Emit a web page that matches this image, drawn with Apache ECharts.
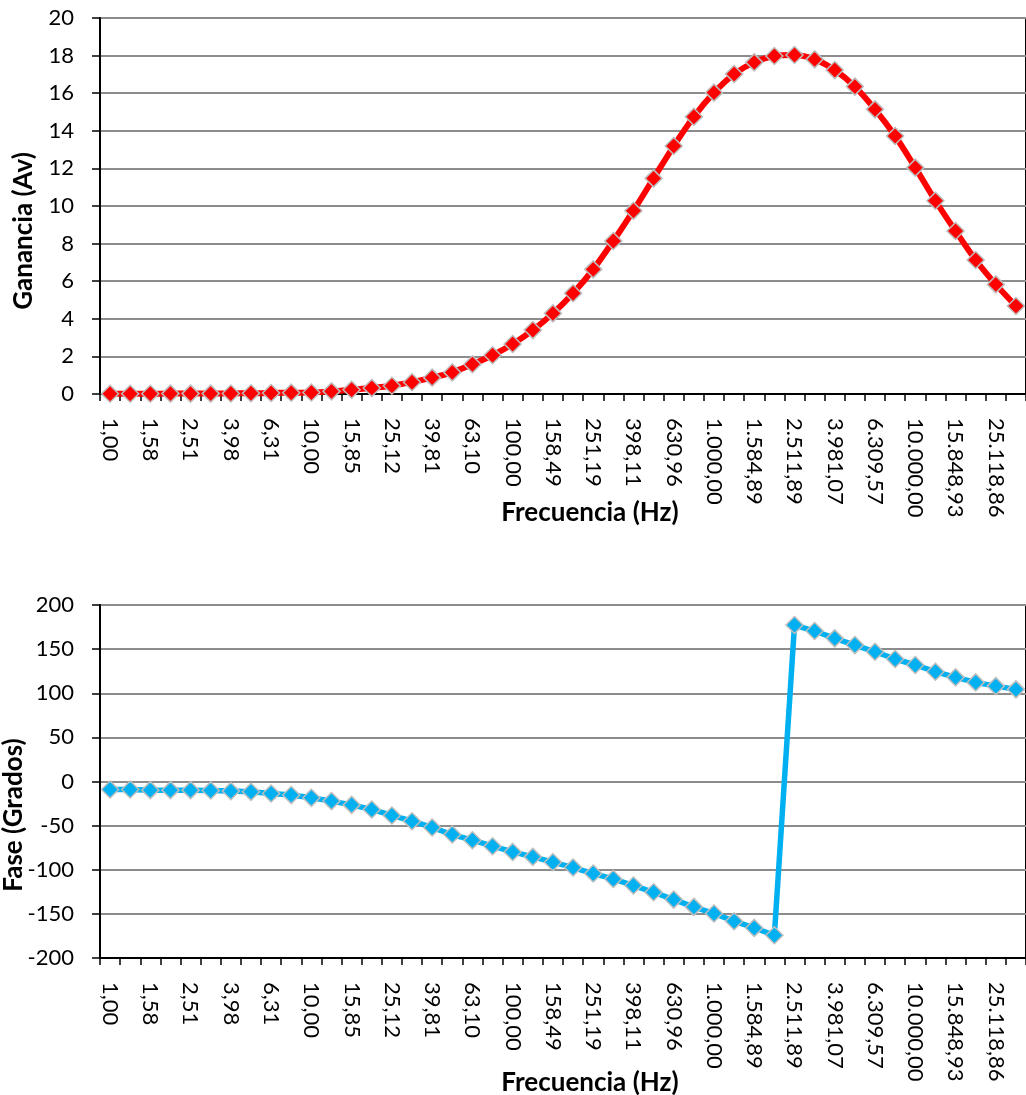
<!DOCTYPE html>
<html>
<head>
<meta charset="utf-8">
<script src="https://cdn.jsdelivr.net/npm/echarts@6/dist/echarts.min.js"></script>
<style>
  html, body { margin: 0; padding: 0; background: #fff; }
  #chart { width: 1026px; height: 1095px; }
</style>
</head>
<body>
<div id="chart"></div>
<script>
// Frequency points (Hz), ten per decade, Spanish number format
const frecuencias = [
  '1,00', '1,26', '1,58', '2,00', '2,51', '3,16', '3,98', '5,01', '6,31', '7,94',
  '10,00', '12,59', '15,85', '19,95', '25,12', '31,62', '39,81', '50,12', '63,10', '79,43',
  '100,00', '125,89', '158,49', '199,53', '251,19', '316,23', '398,11', '501,19', '630,96', '794,33',
  '1.000,00', '1.258,93', '1.584,89', '1.995,26', '2.511,89', '3.162,28', '3.981,07', '5.011,87', '6.309,57', '7.943,28',
  '10.000,00', '12.589,25', '15.848,93', '19.952,62', '25.118,86', '31.622,78'
];

// Voltage gain Av at each frequency
const ganancia = [
  0.01, 0.01, 0.01, 0.02, 0.02, 0.02, 0.03, 0.04, 0.05, 0.07,
  0.08, 0.14, 0.23, 0.32, 0.44, 0.63, 0.87, 1.15, 1.58, 2.06,
  2.66, 3.40, 4.29, 5.36, 6.63, 8.14, 9.75, 11.47, 13.19, 14.75,
  16.03, 17.02, 17.64, 17.98, 18.03, 17.80, 17.23, 16.35, 15.14, 13.72,
  12.04, 10.28, 8.67, 7.13, 5.83, 4.68
];

// Phase in degrees at each frequency
const fase = [
  -9.0, -9.0, -9.8, -9.8, -9.8, -10.1, -10.9, -11.7, -13.6, -15.4,
  -18.5, -22.2, -26.5, -31.7, -38.5, -45.0, -52.1, -60.1, -66.5, -73.3,
  -79.8, -85.4, -91.4, -97.5, -104.3, -110.4, -117.9, -125.5, -133.8, -142.1,
  -149.6, -158.3, -165.9, -174.2, 177.3, 170.5, 162.2, 154.6, 147.0, 138.8,
  132.0, 124.4, 118.0, 112.3, 108.1, 104.4
];

const FONT = 'Lato, "Open Sans", "Noto Sans", sans-serif';
const chart = echarts.init(document.getElementById('chart'), null, { renderer: 'canvas' });

function xAxisFor(gridIndex) {
  return {
    type: 'category',
    gridIndex: gridIndex,
    data: frecuencias,
    boundaryGap: true,
    axisLine: { onZero: false, lineStyle: { color: '#000', width: 2 } },
    axisTick: { show: true, interval: 0, length: 7, lineStyle: { color: '#000', width: 1.5 } },
    axisLabel: {
      interval: 1, rotate: -90, margin: 24,
      fontFamily: FONT, fontSize: 22, color: '#000'
    },
    splitLine: { show: false }
  };
}

function yAxisFor(gridIndex, min, max, interval) {
  return {
    type: 'value',
    gridIndex: gridIndex,
    min: min, max: max, interval: interval,
    axisLine: { show: true, lineStyle: { color: '#000', width: 2 } },
    axisTick: { show: true, length: 8, lineStyle: { color: '#000', width: 1.5 } },
    axisLabel: { margin: 26, fontFamily: FONT, fontSize: 22, color: '#000' },
    splitLine: { show: true, lineStyle: { color: '#8c8c8c', width: 2 } }
  };
}

function titleText(text, x, y, rotated) {
  return {
    type: 'text',
    x: x, y: y,
    rotation: rotated ? Math.PI / 2 : 0,
    style: {
      text: text,
      font: 'bold 26px ' + FONT,
      fill: '#000',
      align: 'center',
      verticalAlign: 'middle'
    }
  };
}

chart.setOption({
  animation: false,
  backgroundColor: '#fff',
  grid: [
    { left: 100, top: 18, right: -3, height: 376, show: true, borderColor: '#000', borderWidth: 2 },
    { left: 100, top: 605, right: -3, height: 353, show: true, borderColor: '#000', borderWidth: 2 }
  ],
  xAxis: [xAxisFor(0), xAxisFor(1)],
  yAxis: [yAxisFor(0, 0, 20, 2), yAxisFor(1, -200, 200, 50)],
  series: [
    {
      name: 'Ganancia',
      type: 'line',
      xAxisIndex: 0, yAxisIndex: 0,
      data: ganancia,
      smooth: 0.3,
      showAllSymbol: true,
      lineStyle: { color: '#ff0000', width: 6 },
      symbol: 'diamond',
      symbolSize: 17,
      itemStyle: { color: '#ff0000', borderColor: '#bdbdbd', borderWidth: 1.5 },
      z: 3
    },
    {
      name: 'Fase',
      type: 'line',
      xAxisIndex: 1, yAxisIndex: 1,
      data: fase,
      smooth: false,
      showAllSymbol: true,
      lineStyle: { color: '#00b0f0', width: 5.5 },
      symbol: 'diamond',
      symbolSize: 17,
      itemStyle: { color: '#00b0f0', borderColor: '#bdbdbd', borderWidth: 1.5 },
      z: 3
    }
  ],
  graphic: [
    titleText('Ganancia (Av)', 24, 231, true),
    titleText('Frecuencia (Hz)', 590, 513, false),
    titleText('Fase (Grados)', 14, 815, true),
    titleText('Frecuencia (Hz)', 590, 1083, false)
  ]
});
</script>
</body>
</html>
